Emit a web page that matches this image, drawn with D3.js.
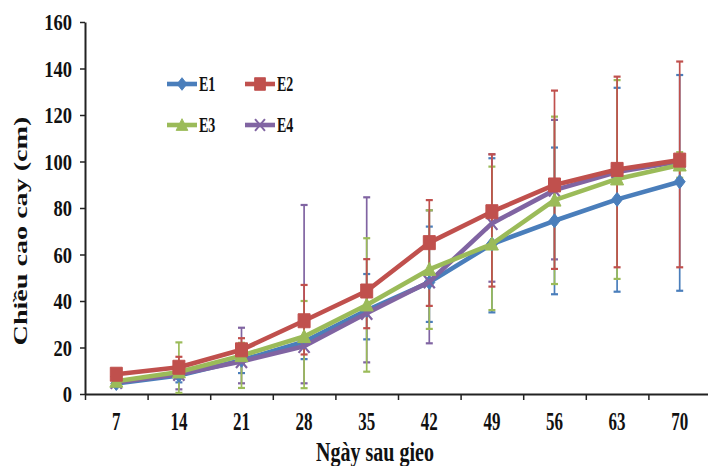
<!DOCTYPE html>
<html>
<head>
<meta charset="utf-8">
<script src="https://cdn.jsdelivr.net/npm/d3@7/dist/d3.min.js"></script>
<style>
  html, body { margin: 0; padding: 0; background: #fff; }
  svg { display: block; }
  text { font-family: "Liberation Serif", "Times New Roman", serif; font-weight: bold; fill: #111; }
</style>
</head>
<body>
<svg id="chart" width="708" height="466"></svg>
<script>
// ---- data ----
const days = [7, 14, 21, 28, 35, 42, 49, 56, 63, 70];
const yTicks = [0, 20, 40, 60, 80, 100, 120, 140, 160];
const seriesNames = ["E1", "E2", "E3", "E4"];

const e1Values = [4.5, 8, 14.5, 22.5, 36, 48, 64.5, 74.5, 83.7, 91.3];
const e1Upper  = [5.5, 11, 19, 30, 51.6, 72, 101.4, 106, 131.7, 137.2];
const e1Lower  = [3.5, 5, 9, 15, 23.5, 31, 35.1, 42.9, 44, 44.4];

const e2Values = [8.5, 11.5, 19, 31.5, 44.3, 65.1, 78.4, 89.9, 96.6, 100.6];
const e2Upper  = [9.5, 16, 24, 46.9, 58, 83.4, 103.1, 130.5, 136.5, 143];
const e2Lower  = [7.5, 7, 14, 17, 28.3, 37.9, 46.2, 53.8, 54.5, 54.5];

const e3Values = [5.5, 9.5, 16.5, 24.7, 38.3, 53.6, 64.5, 83.4, 92.5, 98.5];
const e3Upper  = [6.5, 22.2, 22, 40, 67, 79, 97.8, 119.3, 135, 104];
const e3Lower  = [4.5, 0.5, 2.6, 2.5, 9.6, 28, 36.1, 47.3, 49.5, 93];

const e4Values = [5, 8.5, 14, 20.5, 34.7, 48.3, 73.4, 87.7, 95.5, 100];
const e4Upper  = [6, 12, 28.5, 81.3, 84.6, 79, 103.1, 117.9, 98, 101.5];
const e4Lower  = [4, 2, 4.6, 4.6, 13.6, 21.8, 48.3, 57.9, 93, 98.5];

const xTitle = "Ngày sau gieo";
const yTitle = "Chiều cao cay (cm)";

// ---- build series ----
const series = [
  { name: "E1", values: e1Values, upper: e1Upper, lower: e1Lower, color: "#4a7ebb", shape: "diamond" },
  { name: "E2", values: e2Values, upper: e2Upper, lower: e2Lower, color: "#c0504d", shape: "square" },
  { name: "E3", values: e3Values, upper: e3Upper, lower: e3Lower, color: "#9bbb59", shape: "triangle" },
  { name: "E4", values: e4Values, upper: e4Upper, lower: e4Lower, color: "#8064a2", shape: "x" }
];
const drawOrder = ["E1", "E4", "E3", "E2"];

const svg = d3.select("#chart");
const plotLeft = 85, plotRight = 711, plotTop = 22, plotBottom = 394;

const x = d3.scaleBand().domain(days).range([plotLeft, plotRight]).paddingInner(0).paddingOuter(0);
const xEdge = d3.scaleLinear().domain([0, days.length]).range([plotLeft, plotRight]);
const y = d3.scaleLinear().domain([0, 160]).range([plotBottom, plotTop]);
const cx = d => x(d) + x.bandwidth() / 2;

// ---- axes ----
const yAxis = svg.append("g").attr("transform", `translate(${plotLeft},0)`)
  .call(d3.axisLeft(y).tickValues(yTicks).tickSize(5).tickSizeOuter(0));
yAxis.select(".domain").attr("stroke", "#222").attr("stroke-width", 2);
yAxis.selectAll(".tick line").attr("stroke", "#222").attr("stroke-width", 1.5);
yAxis.selectAll(".tick text")
  .attr("x", 0).attr("dy", null).attr("y", 0)
  .attr("text-anchor", "end")
  .attr("transform", "translate(-13,7.5) scale(1,1.26)")
  .style("font-size", "18.5px")
  .style("font-family", "'Liberation Serif', serif")
  .style("font-weight", "bold")
  .attr("fill", "#111");

// boundary ticks on x
const xTickAxis = svg.append("g").attr("transform", `translate(0,${plotBottom})`)
  .call(d3.axisBottom(xEdge).tickValues(d3.range(0, days.length + 1)).tickSize(6).tickSizeOuter(0).tickFormat(""));
xTickAxis.select(".domain").attr("stroke", "#222").attr("stroke-width", 2);
xTickAxis.selectAll(".tick line").attr("stroke", "#222").attr("stroke-width", 1.5);

// labels on x (band centers)
const xLabelAxis = svg.append("g").attr("transform", `translate(0,${plotBottom})`)
  .call(d3.axisBottom(x).tickSize(0).tickSizeOuter(0));
xLabelAxis.select(".domain").remove();
xLabelAxis.selectAll(".tick text")
  .attr("y", 0).attr("dy", null)
  .attr("transform", "translate(0,36) scale(1,1.5)")
  .style("font-size", "17px")
  .style("font-family", "'Liberation Serif', serif")
  .style("font-weight", "bold")
  .attr("fill", "#111");

// titles
svg.append("text")
  .attr("text-anchor", "middle")
  .attr("transform", "translate(375,461) scale(1,1.4)")
  .style("font-size", "20px")
  .text(xTitle);

svg.append("text")
  .attr("text-anchor", "middle")
  .attr("transform", "translate(27,231) rotate(-90) scale(1.52,1)")
  .style("font-size", "18.5px")
  .text(yTitle);

// ---- marker shapes ----
function markerPath(shape) {
  switch (shape) {
    case "diamond": return "M0,-7 L5.5,0 L0,7 L-5.5,0 Z";
    case "square": return "M-6,-7 L6,-7 L6,7 L-6,7 Z";
    case "triangle": return "M0,-7 L6.5,6 L-6.5,6 Z";
    case "x": return "M-5.5,-6.5 L5.5,6.5 M5.5,-6.5 L-5.5,6.5";
  }
}
function drawMarker(g, s, px, py, scale) {
  const p = g.append("path")
    .attr("d", markerPath(s.shape))
    .attr("transform", `translate(${px},${py}) scale(${scale || 1})`);
  if (s.shape === "x") {
    p.attr("fill", "none").attr("stroke", s.color).attr("stroke-width", 2.2);
  } else {
    p.attr("fill", s.color).attr("stroke", s.color).attr("stroke-width", 1);
  }
}

// ---- error bars ----
const errG = svg.append("g");
drawOrder.forEach(name => {
  const s = series.find(d => d.name === name);
  days.forEach((d, i) => {
    const px = cx(d);
    const y1 = y(s.upper[i]), y0 = y(s.lower[i]);
    errG.append("line").attr("x1", px).attr("x2", px).attr("y1", y1).attr("y2", y0)
      .attr("stroke", s.color).attr("stroke-width", 1.7);
    [y1, y0].forEach(yy => {
      errG.append("line").attr("x1", px - 3.5).attr("x2", px + 3.5).attr("y1", yy).attr("y2", yy)
        .attr("stroke", s.color).attr("stroke-width", 2.2);
    });
  });
});

// ---- lines & markers ----
const line = d3.line().x(d => cx(d.day)).y(d => y(d.v));
drawOrder.forEach(name => {
  const s = series.find(d => d.name === name);
  const pts = days.map((d, i) => ({ day: d, v: s.values[i] }));
  const g = svg.append("g");
  g.append("path").datum(pts).attr("d", line)
    .attr("fill", "none").attr("stroke", s.color).attr("stroke-width", 4.6)
    .attr("stroke-linejoin", "round");
  pts.forEach(p => drawMarker(g, s, cx(p.day), y(p.v)));
});

// ---- legend ----
const legendPos = [
  { name: "E1", x: 167, y: 84 },
  { name: "E2", x: 245, y: 84 },
  { name: "E3", x: 167, y: 125 },
  { name: "E4", x: 245, y: 125 }
];
legendPos.forEach(lp => {
  const s = series.find(d => d.name === lp.name);
  const g = svg.append("g");
  g.append("line").attr("x1", lp.x).attr("x2", lp.x + 30).attr("y1", lp.y).attr("y2", lp.y)
    .attr("stroke", s.color).attr("stroke-width", 4.6);
  drawMarker(g, s, lp.x + 15, lp.y, 0.9);
  g.append("text")
    .attr("transform", `translate(${lp.x + 32},${lp.y + 7}) scale(1,1.55)`)
    .style("font-size", "14px")
    .text(s.name);
});
</script>
</body>
</html>
